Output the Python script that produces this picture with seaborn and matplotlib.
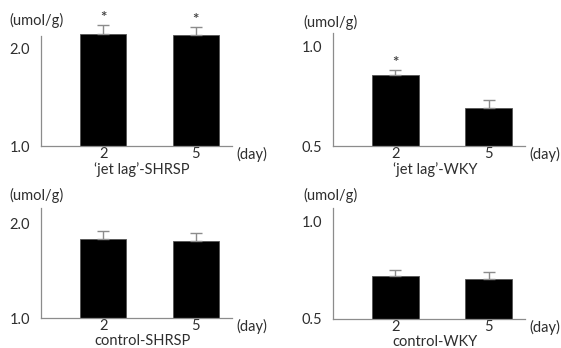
import matplotlib
matplotlib.use("Agg")
import matplotlib.pyplot as plt
import seaborn as sns
import pandas as pd
import numpy as np

sns.set_style("white")
plt.rcParams['font.family'] = ['Lato', 'DejaVu Sans']

days = ["2", "5"]
panel_titles = ["\u2018jet lag\u2019-SHRSP", "\u2018jet lag\u2019-WKY", "control-SHRSP", "control-WKY"]
means = {
    "\u2018jet lag\u2019-SHRSP": [2.15, 2.14],
    "\u2018jet lag\u2019-WKY": [0.86, 0.69],
    "control-SHRSP": [1.835, 1.81],
    "control-WKY": [0.722, 0.706],
}
errors = {
    "\u2018jet lag\u2019-SHRSP": [0.09, 0.08],
    "\u2018jet lag\u2019-WKY": [0.025, 0.04],
    "control-SHRSP": [0.085, 0.09],
    "control-WKY": [0.031, 0.036],
}
stars = {
    "\u2018jet lag\u2019-SHRSP": [True, True],
    "\u2018jet lag\u2019-WKY": [True, False],
    "control-SHRSP": [False, False],
    "control-WKY": [False, False],
}
yticks = {
    "\u2018jet lag\u2019-SHRSP": [1.0, 2.0],
    "\u2018jet lag\u2019-WKY": [0.5, 1.0],
    "control-SHRSP": [1.0, 2.0],
    "control-WKY": [0.5, 1.0],
}
ylims = {
    "\u2018jet lag\u2019-SHRSP": (1.0, 2.34),
    "\u2018jet lag\u2019-WKY": (0.5, 1.16),
    "control-SHRSP": (1.0, 2.38),
    "control-WKY": (0.5, 1.175),
}
spine_tops = {
    "\u2018jet lag\u2019-SHRSP": 2.13,
    "\u2018jet lag\u2019-WKY": 1.07,
    "control-SHRSP": 2.16,
    "control-WKY": 1.07,
}

W, H = 561, 348
fig = plt.figure(figsize=(W / 100, H / 100), dpi=100)

# pixel boxes: (left, top, right, bottom)
boxes = [(41, 15, 232, 146), (333, 15, 525, 146), (41, 187, 232, 318), (333, 188, 525, 319)]
unit_pos = [(9, 20), (303, 22), (9, 195), (303, 195)]
grey = "#8c8c8c"
txt = "#2e2e2e"

for title, box, up in zip(panel_titles, boxes, unit_pos):
    l, t, r, b = box
    ax = fig.add_axes([l / W, 1 - b / H, (r - l) / W, (b - t) / H])
    df = pd.DataFrame({"day": days, "value": means[title]})
    sns.barplot(data=df, x="day", y="value", ax=ax, color="black",
                width=0.5, edgecolor="#555555", linewidth=0.6, errorbar=None,
                saturation=1)
    xs = np.arange(len(days))
    m = np.array(means[title])
    e = np.array(errors[title])
    ax.errorbar(xs, m, yerr=[np.zeros_like(e), e], fmt="none", ecolor=grey,
                elinewidth=1.0, capsize=4, capthick=1.0)
    for xi, mi, ei, s in zip(xs, m, e, stars[title]):
        if s:
            ax.text(xi, mi + ei, "*", ha="center", va="bottom", fontsize=11,
                    fontweight="bold", color="#444444")
    ax.set_xlim(-0.67, 1.39)
    ax.set_ylim(*ylims[title])
    ax.set_yticks(yticks[title])
    ax.set_yticklabels([f"{v:.1f}" for v in yticks[title]])
    ax.set_xlabel("")
    ax.set_ylabel("")
    for sp in ["top", "right"]:
        ax.spines[sp].set_visible(False)
    for sp in ["left", "bottom"]:
        ax.spines[sp].set_color(grey)
        ax.spines[sp].set_linewidth(0.9)
    ax.spines["left"].set_bounds(ylims[title][0], spine_tops[title])
    ax.tick_params(axis="both", length=0, labelsize=10.5, colors=txt)
    ax.tick_params(axis="y", pad=8)
    ax.tick_params(axis="x", pad=1)
    ax.text(1.025, -0.01, "(day)", transform=ax.transAxes, ha="left", va="top",
            fontsize=10.5, color=txt)
    ax.text(0.53, -0.12, title, transform=ax.transAxes, ha="center", va="top",
            fontsize=10.5, color=txt)
    fig.text(up[0] / W, 1 - up[1] / H, "(umol/g)", ha="left", va="center",
             fontsize=10.5, color=txt)

fig.savefig("out.png", dpi=100)
